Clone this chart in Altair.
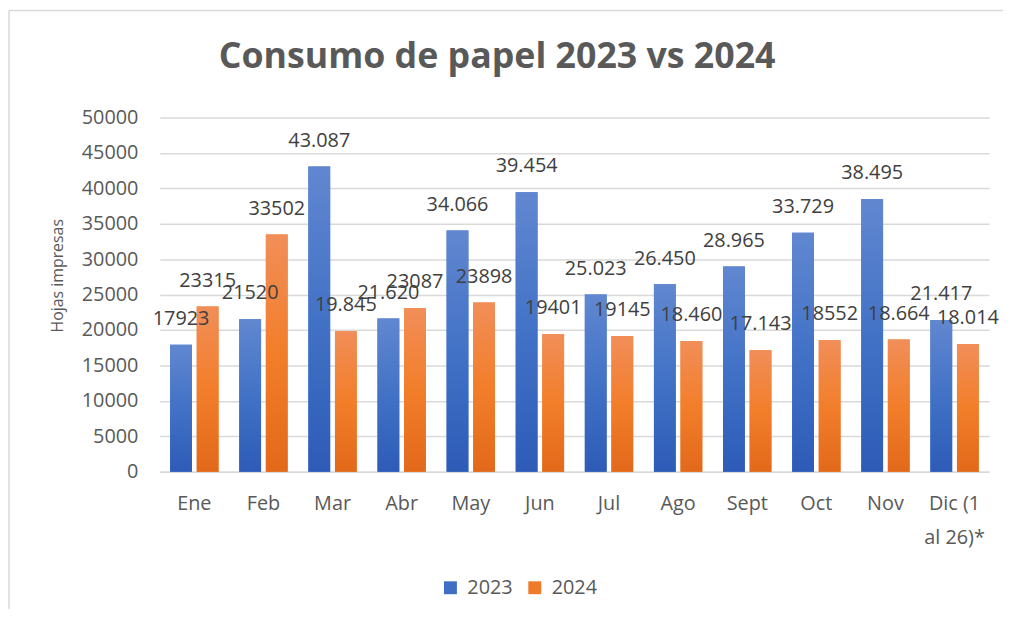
import altair as alt
import pandas as pd

months = ["Ene", "Feb", "Mar", "Abr", "May", "Jun", "Jul", "Ago", "Sept", "Oct", "Nov", "Dic (1 al 26)*"]
years = ["2023", "2024"]
v2023 = [17923, 21520, 43087, 21620, 34066, 39454, 25023, 26450, 28965, 33729, 38495, 21417]
v2024 = [23315, 33502, 19845, 23087, 23898, 19401, 19145, 18460, 17143, 18552, 18664, 18014]
l2023 = ["17923", "21520", "43.087", "21.620", "34.066", "39.454", "25.023", "26.450", "28.965", "33.729", "38.495", "21.417"]
l2024 = ["23315", "33502", "19.845", "23087", "23898", "19401", "19145", "18.460", "17.143", "18552", "18.664", "18.014"]
y_ticks = [0, 5000, 10000, 15000, 20000, 25000, 30000, 35000, 40000, 45000, 50000]
title_text = ["Consumo de papel 2023 vs 2024"]

rows = []
for m, a, b, la, lb in zip(months, v2023, v2024, l2023, l2024):
    rows.append({"mes": m, "year": "2023", "value": a, "label": la})
    rows.append({"mes": m, "year": "2024", "value": b, "label": lb})
df = pd.DataFrame(rows)

FONT = "Open Sans"
GRAY = "#595959"

grad_blue = alt.Gradient(gradient="linear", x1=0, y1=0, x2=0, y2=1, stops=[
    alt.GradientStop(color="#6187d0", offset=0),
    alt.GradientStop(color="#4272c6", offset=0.5),
    alt.GradientStop(color="#2d5bb7", offset=1),
])
grad_orange = alt.Gradient(gradient="linear", x1=0, y1=0, x2=0, y2=1, stops=[
    alt.GradientStop(color="#f18e59", offset=0),
    alt.GradientStop(color="#f27e2a", offset=0.5),
    alt.GradientStop(color="#e2691a", offset=1),
])

x_enc = alt.X("mes:N", sort=months, title=None,
              scale=alt.Scale(paddingInner=0.3, paddingOuter=0.15),
              axis=alt.Axis(labelAngle=0, labelFontSize=20, labelFont=FONT, labelColor=GRAY,
                            labelPadding=22, ticks=False, domain=True, domainColor="#d9d9d9",
                            domainWidth=1.5, grid=False, labelLimit=300, labelLineHeight=34,
                            labelExpr="datum.label == 'Dic (1 al 26)*' ? ['Dic (1', 'al 26)*'] : datum.label"))
xo_enc = alt.XOffset("year:N", scale=alt.Scale(domain=years, paddingInner=0.18, paddingOuter=0))
y_enc = alt.Y("value:Q", title="Hojas impresas",
              scale=alt.Scale(domain=[0, 50000], nice=False),
              axis=alt.Axis(values=y_ticks, format="d", labelFontSize=20, labelFont=FONT, labelColor=GRAY,
                            labelPadding=22, ticks=False, domain=False, grid=True,
                            gridColor="#d9d9d9", gridWidth=1.5,
                            titleFontSize=16, titleFont=FONT, titleColor=GRAY, titleFontWeight="normal",
                            titleX=-103, titleY=159, titleAngle=-90, titleAlign="center",
                            titleBaseline="middle"))

base = alt.Chart(df)

legend_bars = base.mark_bar().encode(
    x=x_enc, xOffset=xo_enc, y=y_enc,
    color=alt.Color("year:N", scale=alt.Scale(domain=years, range=["#3f6ec4", "#ee7a2a"]),
                    legend=alt.Legend(title=None, orient="none", direction="horizontal",
                                      legendX=283, legendY=464, symbolType="square",
                                      symbolSize=169, symbolStrokeWidth=0, labelFontSize=20,
                                      labelFont=FONT, labelColor=GRAY, labelOffset=7,
                                      columnPadding=12)),
)

grad_bars = base.mark_bar().encode(
    x=x_enc, xOffset=xo_enc, y=y_enc,
    fill=alt.condition(alt.datum.year == "2023", alt.value(grad_blue), alt.value(grad_orange)),
)

labels = base.mark_text(fontSize=20, font=FONT, color="#404040", baseline="middle", dy=-26).encode(
    x=x_enc, xOffset=xo_enc, y=y_enc, text="label:N",
)

# decorative chart-area frame (top and left edges, as in the reference screenshot)
frame_src = alt.Chart(pd.DataFrame({"edge": ["top"]}))
frame_top = frame_src.mark_rule(color="#d9d9d9", strokeWidth=1.5).encode(
    x=alt.value(-152), x2=alt.value(850), y=alt.value(-108))
frame_left = frame_src.mark_rule(color="#d9d9d9", strokeWidth=1.5).encode(
    x=alt.value(-152), y=alt.value(-108), y2=alt.value(500))

# chart title, centred over the whole chart area as in the reference
title_mark = alt.Chart(pd.DataFrame({"t": title_text})).mark_text(
    fontSize=36, font=FONT, fontWeight="bold", color=GRAY, align="center", baseline="alphabetic"
).encode(text="t:N", x=alt.value(340), y=alt.value(-50))

chart = alt.layer(frame_top, frame_left, title_mark, legend_bars, grad_bars, labels).properties(
    width=836, height=357,
    autosize=alt.AutoSizeParams(type="none"),
    padding={"left": 153, "top": 108, "right": 16, "bottom": 136},
    background="white",
).configure_view(stroke=None)

chart.save("out.html", embed_options={"renderer": "svg", "actions": False})
